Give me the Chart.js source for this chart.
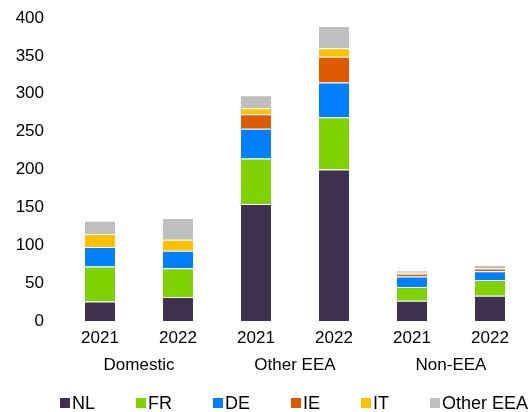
<!DOCTYPE html>
<html>
<head>
<meta charset="utf-8">
<script src="https://cdn.jsdelivr.net/npm/chart.js@4"></script>
<style>
  html, body { margin: 0; padding: 0; background: #fff; }
  #wrap { position: relative; width: 529px; height: 412px; }
  #legend {
    position: absolute; left: 60px; top: 394px;
    display: flex; gap: 41px;
    font-family: "Liberation Sans", Arial, sans-serif; font-size: 18px; color: #000;
    line-height: 18px;
  }
  #legend span.item { display: flex; align-items: center; white-space: nowrap; }
  #legend i { display: inline-block; width: 10px; height: 10px; margin-right: 2px; }
</style>
</head>
<body>
<div id="wrap">
  <canvas id="chart" width="529" height="412"></canvas>
  <div id="legend"></div>
</div>
<script>
// Data
const years = ['2021', '2022', '2021', '2022', '2021', '2022'];
const groups = ['Domestic', 'Other EEA', 'Non-EEA'];
const nl = [26, 32, 154.5, 200, 27, 33.5];
const fr = [46, 38, 60, 69, 18, 21];
const de = [26, 23, 39.5, 46, 14, 11.5];
const ie = [0, 0, 19, 34, 3.5, 3.5];
const it = [17, 14.5, 8, 11, 1.3, 0.8];
const otherEea = [17.5, 28.5, 17, 29.5, 3.5, 4];
const yTicks = [0, 50, 100, 150, 200, 250, 300, 350, 400];

const series = [
    { label: 'NL', data: nl, color: '#403151' },
    { label: 'FR', data: fr, color: '#7fd300' },
    { label: 'DE', data: de, color: '#0080ff' },
    { label: 'IE', data: ie, color: '#dd5a00' },
    { label: 'IT', data: it, color: '#ffc000' },
    { label: 'Other EEA', data: otherEea, color: '#bfbfbf' }
];

const font = { family: '"Liberation Sans", Arial, sans-serif', size: 17 };

new Chart(document.getElementById('chart'), {
    type: 'bar',
    data: {
        labels: years,
        datasets: series.map(s => ({
            label: s.label,
            data: s.data,
            backgroundColor: s.color,
            borderColor: 'rgba(255,255,255,0.4)',
            borderWidth: 1,
            barPercentage: 0.41,
            categoryPercentage: 1
        }))
    },
    options: {
        responsive: false,
        animation: false,
        layout: { padding: { top: 18, right: 0, bottom: 36, left: 0 } },
        plugins: { legend: { display: false }, tooltip: { enabled: false } },
        scales: {
            x: {
                stacked: true,
                grid: { display: false, drawTicks: false },
                border: { display: false },
                ticks: { color: '#000', font: font, padding: 7, maxRotation: 0 }
            },
            group: {
                type: 'category',
                position: 'bottom',
                labels: groups,
                offset: true,
                grid: { display: false, drawTicks: false },
                border: { display: false },
                ticks: { color: '#000', font: font, padding: 0 }
            },
            y: {
                stacked: true,
                min: 0,
                max: 400,
                afterFit: scale => {
                    scale.width = 61;
                    // tick padding would otherwise push the plot top down
                    scale.paddingTop = 0;
                    scale.paddingBottom = 0;
                },
                afterBuildTicks: scale => { scale.ticks = yTicks.map(v => ({ value: v })); },
                grid: { display: false, drawTicks: false },
                border: { display: false },
                ticks: { color: '#000', font: font, padding: 17 }
            }
        }
    }
});

// Legend
const legend = document.getElementById('legend');
series.forEach(s => {
    const item = document.createElement('span');
    item.className = 'item';
    item.innerHTML = '<i style="background:' + s.color + '"></i>' + s.label;
    legend.appendChild(item);
});
</script>
</body>
</html>
